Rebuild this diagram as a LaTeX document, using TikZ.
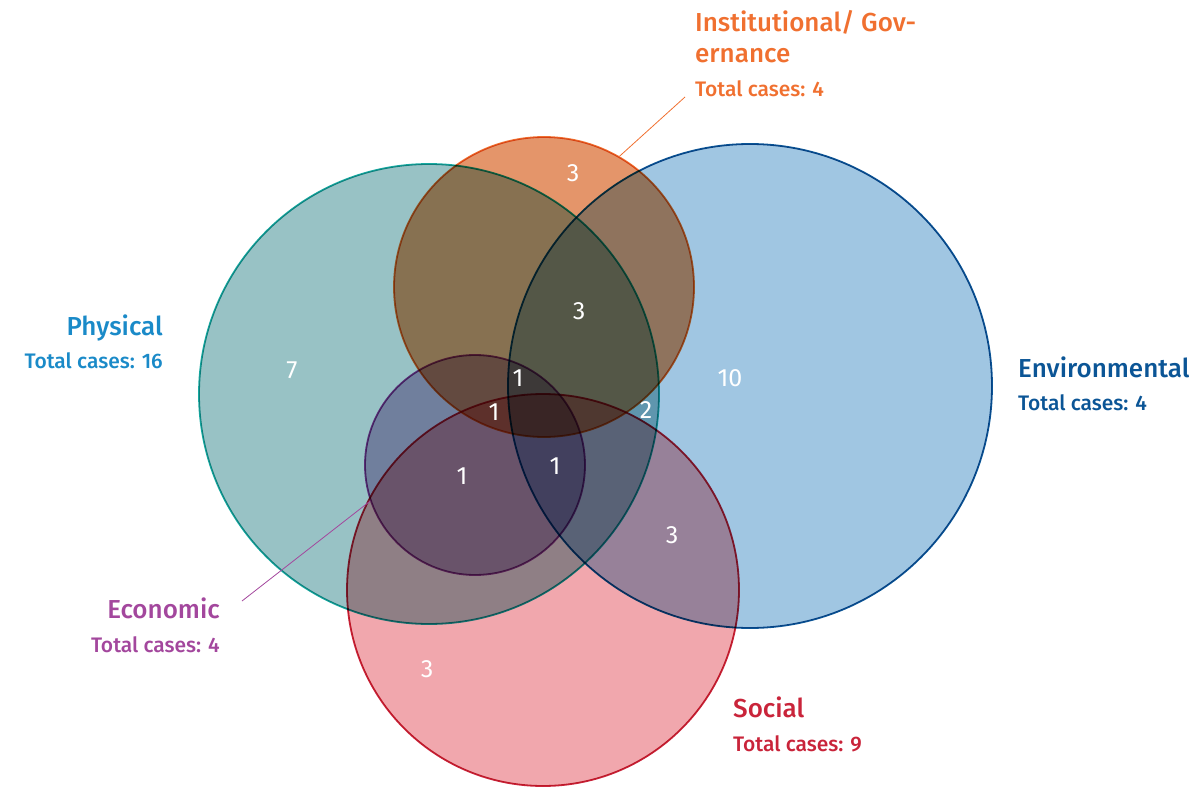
\documentclass[tikz,border=0pt]{standalone}
\usepackage{fontspec}
\setmainfont{Fira Sans}[UprightFont={* Medium}]
\newfontfamily\numfont{Fira Sans}
\usepackage{tikz}
\usetikzlibrary{positioning}

\definecolor{phyfill}{HTML}{98C2C5}
\definecolor{phyline}{HTML}{17A9A1}
\definecolor{phytext}{HTML}{1A8AC8}
\definecolor{igfill}{HTML}{E4956A}
\definecolor{igline}{HTML}{F07030}
\definecolor{envfill}{HTML}{A0C6E2}
\definecolor{envline}{HTML}{0B5596}
\definecolor{socfill}{HTML}{F1A7AD}
\definecolor{socline}{HTML}{C9243A}
\definecolor{ecfill}{HTML}{BCA8CC}
\definecolor{ecline}{HTML}{943F99}
\definecolor{ectext}{HTML}{A3479D}

\begin{document}
\begin{tikzpicture}[x=1pt,y=-1pt]
\tikzstyle{venn}=[circle, draw, inner sep=0pt, line width=1.8pt]
\tikzstyle{num}=[text=white, inner sep=0pt, font=\numfont\fontsize{25}{25}\selectfont]
\tikzstyle{ttl}=[inner sep=0pt, font=\fontsize{26}{30}\selectfont]
\tikzstyle{sub}=[inner sep=0pt, font=\fontsize{21}{24}\selectfont]
\useasboundingbox (0,0) rectangle (1189,789);
% circles
\begin{scope}[blend mode=multiply]
\node[venn, minimum size=460, fill=phyfill, draw=phyline] (phy) at (429,394) {};
\node[venn, minimum size=300, fill=igfill, draw=igline] (ig) at (544,287) {};
\node[venn, minimum size=484, fill=envfill, draw=envline] (env) at (750,386) {};
\node[venn, minimum size=220, fill=ecfill, draw=ecline] (ec) at (475,465) {};
\node[venn, minimum size=392, fill=socfill, draw=socline] (soc) at (543,590) {};
\end{scope}
% counts
\foreach \n/\x/\y/\v in {a/292/370/7, b/573/173/3, c/579/311/3, d/730/378/10, e/518/378/1,
  f/494/412/1, g/646/410/2, h/462/476/1, i/555/466/1, j/672/535/3, k/427/669/3}{
  \node[num] (n\n) at (\x,\y) {\v};}
% labels
\node[ttl, text=phytext, anchor=base east] (phyT) at (163,335) {Physical};
\node[sub, text=phytext, anchor=base east] (phyN) at (163,368) {Total cases: 16};
\node[ttl, text=envline, anchor=base west] (envT) at (1018,377) {Environmental};
\node[sub, text=envline, anchor=base west] (envN) at (1018,410) {Total cases: 4};
\node[ttl, text=igline, anchor=base west] (igT) at (695,32) {Institutional/ Gov-};
\node[ttl, text=igline, anchor=base west] (igT2) at (695,63) {ernance};
\node[sub, text=igline, anchor=base west] (igN) at (695,97) {Total cases: 4};
\node[ttl, text=ectext, anchor=base east] (ecT) at (220,618) {Economic};
\node[sub, text=ectext, anchor=base east] (ecN) at (220,652) {Total cases: 4};
\node[ttl, text=socline, anchor=base west] (socT) at (733,717) {Social};
\node[sub, text=socline, anchor=base west] (socN) at (733,751) {Total cases: 9};
% leader lines
\coordinate (igEnd) at (685,97);
\coordinate (ecEnd) at (242,601);
\draw[igline, line width=0.8pt] (igEnd) -- (ig.60);
\draw[ectext, line width=0.8pt] (ecEnd) -- (ec.199);
\end{tikzpicture}
\end{document}
